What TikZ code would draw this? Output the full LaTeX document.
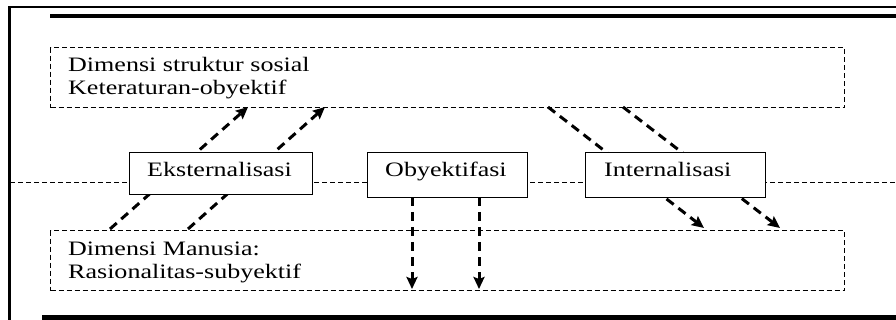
\documentclass[tikz,border=0pt]{standalone}
\usepackage{fontspec}
\setmainfont{Liberation Serif}[FakeStretch=1.27]
\usetikzlibrary{arrows.meta}
\begin{document}
\begin{tikzpicture}[x=1pt,y=-1pt,
  rulebar/.style={line width=#1, line cap=butt},
  dbox/.style={draw, dash pattern=on 5pt off 3pt, line width=1.2pt, inner sep=0pt},
  sbox/.style={draw, fill=white, line width=1.3pt, inner sep=0pt},
  lbl/.style={inner sep=0pt, anchor=base west, font=\fontsize{20.5pt}{23pt}\selectfont},
  flow/.style={line width=3pt, dash pattern=on 9pt off 6pt, -{Stealth[length=12pt,width=11pt,inset=2pt]}},
  midline/.style={dash pattern=on 5pt off 3pt, line width=0.9pt}]
\useasboundingbox (0,0) rectangle (896,320);
% outer frame
\coordinate (ftl) at (9.5,7);
\coordinate (fbl) at (9.5,320);
\coordinate (ftr) at (896,7);
\coordinate (tbl) at (50,16);
\coordinate (tbr) at (896,16);
\coordinate (bbl) at (42,317.5);
\coordinate (bbr) at (896,317.5);
\draw[rulebar=3pt] (fbl) -- (ftl);
\draw[rulebar=2pt] (8,7) -- (ftr);
\draw[rulebar=4pt] (tbl) -- (tbr);
\draw[rulebar=5pt] (bbl) -- (bbr);
% dashed boxes
\node[dbox, minimum width=794pt, minimum height=60pt, anchor=north west] (top) at (50,47) {};
\node[dbox, minimum width=794pt, minimum height=60pt, anchor=north west] (bot) at (50,230) {};
\node[lbl] (t1) at (68,72) {Dimensi struktur sosial};
\node[lbl] (t2) at (68,95) {Keteraturan-obyektif};
\node[lbl] (b1) at (68,255) {Dimensi Manusia:};
\node[lbl] (b2) at (68,278) {Rasionalitas-subyektif};
% middle dashed line
\coordinate (ml) at (10,182);
\coordinate (mr) at (896,182);
\draw[midline] (ml) -- (mr);
% arrow end points
\coordinate (e1a) at (110,229);
\coordinate (e1b) at (248,107);
\coordinate (e2a) at (188,229);
\coordinate (e2b) at (325,107);
\coordinate (i1a) at (548,107);
\coordinate (i1b) at (704,228);
\coordinate (i2a) at (623,107);
\coordinate (i2b) at (780,228);
\coordinate (o1a) at (412,197);
\coordinate (o1b) at (412,289);
\coordinate (o2a) at (479,197);
\coordinate (o2b) at (479,289);
\draw[flow] (e1a) -- (e1b);
\draw[flow] (e2a) -- (e2b);
\draw[flow] (i1a) -- (i1b);
\draw[flow] (i2a) -- (i2b);
\draw[flow] (o1a) -- (o1b);
\draw[flow] (o2a) -- (o2b);
% process boxes
\node[sbox, minimum width=183pt, minimum height=42pt, anchor=north west] (ext) at (129,152) {};
\node[sbox, minimum width=160pt, minimum height=45pt, anchor=north west] (obj) at (367,152) {};
\node[sbox, minimum width=180pt, minimum height=45pt, anchor=north west] (int) at (585,152) {};
\node[lbl] (extl) at (147,177) {Eksternalisasi};
\node[lbl] (objl) at (385,177) {Obyektifasi};
\node[lbl] (intl) at (604,177) {Internalisasi};
\end{tikzpicture}
\end{document}
